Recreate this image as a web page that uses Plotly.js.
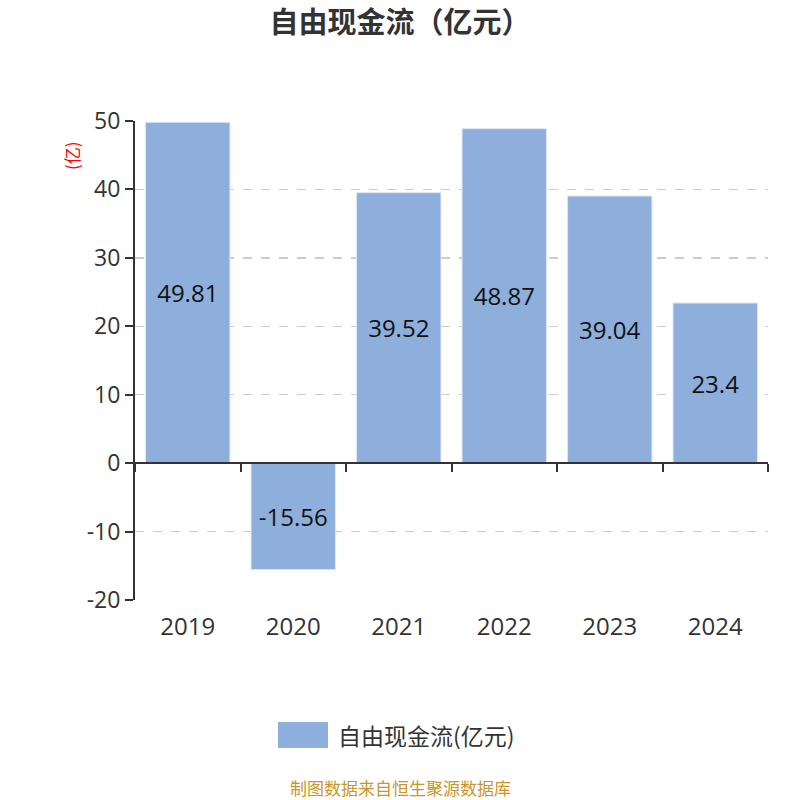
<!DOCTYPE html>
<html>
<head>
<meta charset="utf-8">
<script src="https://cdn.plot.ly/plotly-3.0.1.min.js"></script>
<style>
  html, body { margin: 0; padding: 0; background: #fff; }
  #chart { width: 800px; height: 800px; }
</style>
</head>
<body>
<div id="chart"></div>
<script>
var years = ['2019', '2020', '2021', '2022', '2023', '2024'];
var fcf = [49.81, -15.56, 39.52, 48.87, 39.04, 23.4];
var seriesName = '自由现金流(亿元)';
var barColor = '#8eaedb';
var yTickVals = [-20, -10, 0, 10, 20, 30, 40, 50];
var yTickText = ['-20', '-10', '0', '10', '20', '30', '40', '50'];

var FONT = '"Open Sans", "Noto Sans CJK SC", sans-serif';
var CJK = '"Noto Sans CJK SC", sans-serif';

var trace1 = {
    x: years,
    y: fcf,
    type: 'bar',
    name: seriesName,
    width: 0.8,
    marker: { color: barColor, line: { color: '#dce6f5', width: 1 } },
    text: fcf.map(String),
    textposition: 'inside',
    insidetextanchor: 'middle',
    textangle: 0,
    textfont: { family: FONT, size: 24, color: '#111' },
    hoverinfo: 'skip',
    showlegend: false
};

// same series on the overlaid axis that sits at y = 0 (gives the axis line + boundary ticks)
var trace2 = {
    x: years,
    y: fcf,
    type: 'bar',
    xaxis: 'x2',
    width: 0.8,
    marker: { color: 'rgba(0,0,0,0)' },
    hoverinfo: 'skip',
    showlegend: false
};

var layout = {
    width: 800,
    height: 800,
    margin: { l: 135, r: 32, t: 121, b: 200 },
    paper_bgcolor: '#fff',
    plot_bgcolor: '#fff',
    font: { family: FONT, color: '#333' },
    title: {
        text: '<b>自由现金流（亿元）</b>',
        font: { family: CJK, size: 29, color: '#333' },
        x: 0.5, xanchor: 'center',
        y: 0.972, yanchor: 'middle'
    },
    bargap: 0.2,
    xaxis: {
        type: 'category',
        showline: false,
        ticks: '',
        showgrid: false,
        zeroline: false,
        ticklabelstandoff: 10,
        tickfont: { family: FONT, size: 24, color: '#333' },
        fixedrange: true
    },
    xaxis2: {
        type: 'category',
        overlaying: 'x',
        anchor: 'free',
        position: 20 / 70,
        tickson: 'boundaries',
        showticklabels: false,
        ticks: 'outside',
        ticklen: 8,
        tickwidth: 2,
        tickcolor: '#333',
        showline: true,
        linecolor: '#333',
        linewidth: 2,
        showgrid: false,
        zeroline: false
    },
    yaxis: {
        range: [-20, 50],
        tickvals: yTickVals,
        ticktext: yTickText,
        showline: true,
        linecolor: '#333',
        linewidth: 2,
        ticks: 'outside',
        ticklen: 8,
        tickwidth: 2,
        tickcolor: '#333',
        showgrid: true,
        gridcolor: '#cccccc',
        gridwidth: 1.5,
        griddash: 'dash',
        zeroline: false,
        tickfont: { family: FONT, size: 23, color: '#333' },
        fixedrange: true
    },
    showlegend: false,
    shapes: [{
        type: 'rect', xref: 'paper', yref: 'paper',
        x0: 143 / 633, x1: 193 / 633, y0: -148 / 479, y1: -122 / 479,
        fillcolor: barColor, line: { width: 0 }
    }],
    annotations: [{
        text: '(亿)',
        xref: 'paper', yref: 'paper',
        x: -64 / 633, y: (600 - 156) / 479,
        xanchor: 'center', yanchor: 'middle',
        textangle: -90,
        showarrow: false,
        font: { family: CJK, size: 17, color: '#ff0000' }
    }, {
        text: seriesName,
        xref: 'paper', yref: 'paper',
        x: 201 / 633, y: -135 / 479,
        xanchor: 'left', yanchor: 'middle',
        showarrow: false,
        font: { family: CJK, size: 23, color: '#333' }
    }, {
        text: '制图数据来自恒生聚源数据库',
        xref: 'paper', yref: 'paper',
        x: 265 / 633, y: -187 / 479,
        xanchor: 'center', yanchor: 'middle',
        showarrow: false,
        font: { family: CJK, size: 17, color: '#c8962a' }
    }]
};

Plotly.newPlot('chart', [trace1, trace2], layout, { staticPlot: true });
</script>
</body>
</html>
